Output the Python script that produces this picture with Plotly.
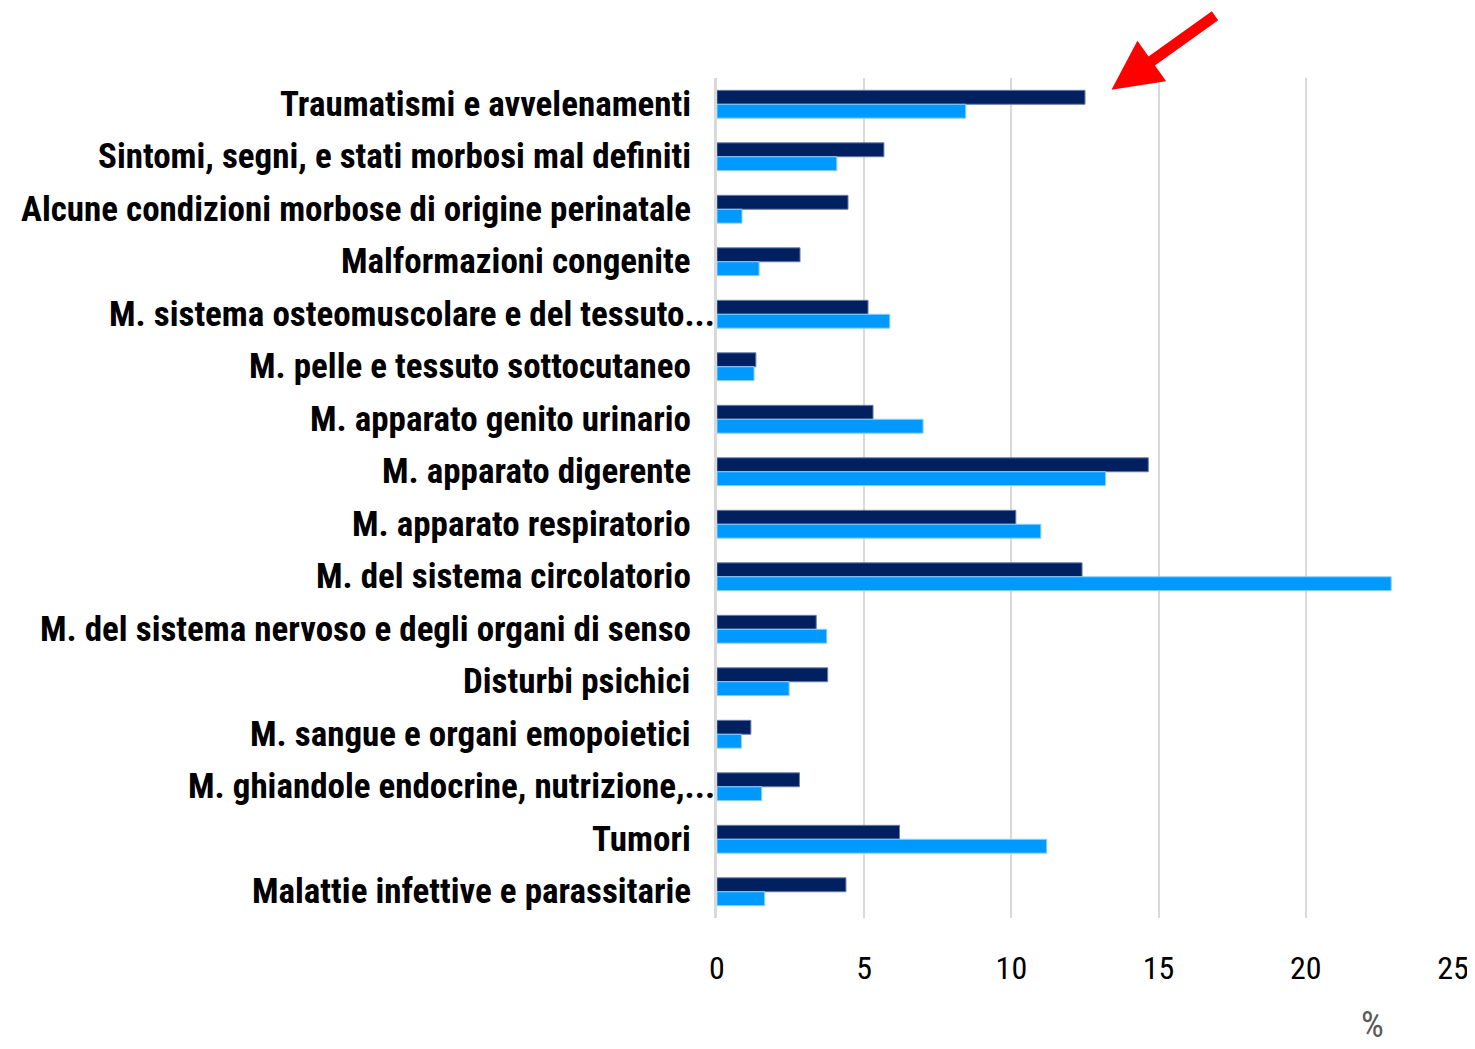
import plotly.graph_objects as go

categories = [
    "Traumatismi e avvelenamenti",
    "Sintomi, segni, e stati morbosi mal definiti",
    "Alcune condizioni morbose di origine perinatale",
    "Malformazioni congenite",
    "M. sistema osteomuscolare e del tessuto...",
    "M. pelle e tessuto sottocutaneo",
    "M. apparato genito urinario",
    "M. apparato digerente",
    "M. apparato respiratorio",
    "M. del sistema circolatorio",
    "M. del sistema nervoso e degli organi di senso",
    "Disturbi psichici",
    "M. sangue e organi emopoietici",
    "M. ghiandole endocrine, nutrizione,...",
    "Tumori",
    "Malattie infettive e parassitarie",
]
series_dark = [12.5, 5.67, 4.45, 2.82, 5.13, 1.32, 5.3, 14.65, 10.15, 12.4, 3.37, 3.76, 1.15, 2.8, 6.2, 4.38]
series_light = [8.45, 4.07, 0.85, 1.43, 5.87, 1.26, 7.0, 13.2, 11.0, 22.9, 3.73, 2.45, 0.83, 1.52, 11.2, 1.62]
x_ticks = [0, 5, 10, 15, 20, 25]

NB = "\u00a0"
labeltext = [c if c.endswith("...") else c + NB * 3 for c in categories]

FONT = "Liberation Sans Narrow, Arial Narrow, Roboto Condensed, sans-serif"

fig = go.Figure()
fig.add_trace(go.Bar(y=categories, x=series_dark, orientation="h",
                     marker=dict(color="#002060", line=dict(color="#6b7ba8", width=1)),
                     name="A"))
fig.add_trace(go.Bar(y=categories, x=series_light, orientation="h",
                     marker=dict(color="#0099FF", line=dict(color="#8fd0ff", width=1)),
                     name="B"))

# page body has an 8px default margin; size/margins compensate for it
fig.update_layout(
    width=1467, height=1041,
    margin=dict(l=709, r=22, t=70, b=131, autoexpand=False),
    plot_bgcolor="white", paper_bgcolor="white",
    barmode="group", bargap=0.47, bargroupgap=0,
    showlegend=False,
    font=dict(family=FONT, color="black"),
)
fig.update_xaxes(range=[0, 25], tickvals=x_ticks, ticktext=[str(v) for v in x_ticks],
                 showgrid=True, gridcolor="#D9D9D9", gridwidth=2,
                 zeroline=False, showline=False, automargin=False,
                 tickfont=dict(family=FONT, size=32, color="black"),
                 ticks="", ticklen=0, ticklabelstandoff=28)
fig.update_yaxes(autorange="reversed", tickmode="array", tickvals=categories,
                 showticklabels=False,
                 showline=True, linecolor="#D9D9D9", linewidth=3, ticks="", ticklen=0,
                 showgrid=False, automargin=False)

for cat, txt in zip(categories, labeltext):
    fig.add_annotation(x=0, xref="x", y=cat, yref="y", text=txt, showarrow=False,
                       xanchor="right", yanchor="middle", xshift=0,
                       font=dict(family=FONT, size=35, color="black", weight="bold"))

fig.add_annotation(text="%", xref="paper", yref="paper", x=0.891, y=-0.155,
                   showarrow=False, font=dict(family=FONT, size=36, color="#595959"),
                   xanchor="center", yanchor="bottom")

fig.add_annotation(xref="x", yref="paper", x=13.4, y=0.986, ax=105, ay=-75,
                   text="", showarrow=True, arrowhead=2, arrowsize=0.9, arrowwidth=11,
                   arrowcolor="#FF0000")

fig.write_html("out.html")
